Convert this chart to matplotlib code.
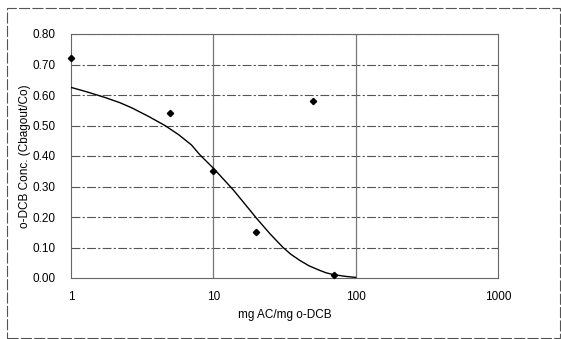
import matplotlib
matplotlib.use("Agg")
import matplotlib.pyplot as plt
from matplotlib.ticker import FixedLocator, FixedFormatter, NullLocator
from matplotlib.patches import Rectangle

# measured data points
dose = [1, 5, 10, 20, 50, 70]
conc = [0.72, 0.54, 0.35, 0.15, 0.58, 0.01]

# fitted curve
fit_x = [1.0, 1.3, 1.73, 2.2, 2.67, 3.5, 4.57, 5.7, 7.03, 8.0, 10.0, 12.0, 13.8, 16.5, 20.1,
         25.0, 30.9, 35.0, 40.4, 47.0, 55.9, 62.0, 70.0, 86.0, 100.0]
fit_y = [0.625, 0.61, 0.592, 0.575, 0.558, 0.53, 0.50, 0.47, 0.436, 0.405, 0.36, 0.32, 0.289,
         0.245, 0.196, 0.145, 0.100, 0.078, 0.058, 0.040, 0.025, 0.017, 0.011, 0.005, 0.002]

xticks = [1, 10, 100, 1000]
xtick_labels = ["1", "10", "100", "1000"]
yticks = [0.0, 0.1, 0.2, 0.3, 0.4, 0.5, 0.6, 0.7, 0.8]

plt.rcParams['font.family'] = ['Liberation Sans', 'DejaVu Sans']

fig = plt.figure(figsize=(5.61, 3.39), dpi=100)
ax = fig.add_axes([71/561, 61/339, (498-71)/561, (278-34)/339])

ax.set_xscale('log')
ax.set_xlim(1, 1000)
ax.set_ylim(0, 0.8)

ax.plot(fit_x, fit_y, color='black', lw=1.0, zorder=3)
ax.plot(dose, conc, linestyle='none', marker='D', ms=3.2, color='black', clip_on=False, zorder=4)

ax.xaxis.set_major_locator(FixedLocator(xticks))
ax.xaxis.set_major_formatter(FixedFormatter(xtick_labels))
ax.xaxis.set_minor_locator(NullLocator())
ax.set_yticks(yticks)
ax.set_yticklabels([f"{v:.2f}" for v in yticks])
ax.tick_params(axis='both', length=0, labelsize=8.5, colors='black')
ax.tick_params(axis='x', pad=9)
ax.tick_params(axis='y', pad=11)

for v in yticks[1:]:
    ax.axhline(v, color='#555555', lw=0.8, linestyle=(0, (8, 2, 2, 2)), zorder=1)
for v in [10, 100]:
    ax.axvline(v, color='#777777', lw=0.9, zorder=1)

for s in ax.spines.values():
    s.set_color('#666666')
    s.set_linewidth(0.8)

ax.set_xlabel("mg AC/mg o-DCB", fontsize=8.5, labelpad=5)
ax.set_ylabel("o-DCB Conc. (Cbagout/Co)", fontsize=8.5, labelpad=1)

fig.add_artist(Rectangle((7/561, 1/339), 1 - 8/561, (330)/339, transform=fig.transFigure,
                         fill=False, edgecolor='#555555', lw=0.8, linestyle=(0, (10, 2))))

fig.savefig("out.png", dpi=100)
